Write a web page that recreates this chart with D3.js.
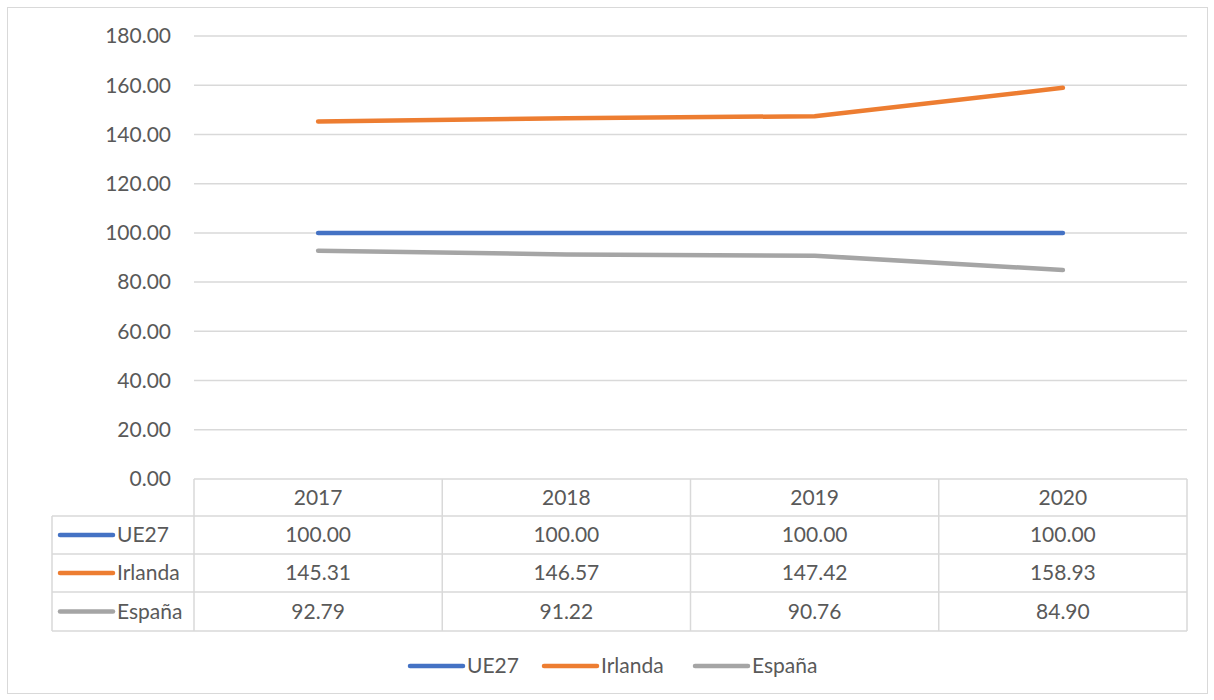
<!DOCTYPE html>
<html><head><meta charset="utf-8">
<script src="https://cdn.jsdelivr.net/npm/d3@7"></script>
<style>body{margin:0;background:#fff}svg{display:block}text{font-family:Lato,"Open Sans",sans-serif;fill:#595959}</style>
</head><body>
<script>
const categories = ["2017","2018","2019","2020"];
const seriesNames = ["UE27","Irlanda","España"];
const ue27 = [100.00,100.00,100.00,100.00];
const irlanda = [145.31,146.57,147.42,158.93];
const espana = [92.79,91.22,90.76,84.90];
const colors = ["#4472C4","#ED7D31","#A5A5A5"];
const yTicks = [0,20,40,60,80,100,120,140,160,180];
const series = [ue27, irlanda, espana];

const W=1214,H=700;
const svg=d3.select("body").append("svg").attr("width",W).attr("height",H);
svg.append("rect").attr("x",7.5).attr("y",7.5).attr("width",1200).attr("height",686).attr("fill","#fff").attr("stroke","#d9d9d9");

const x=d3.scaleBand().domain(categories).range([194,1187]);
const y=d3.scaleLinear().domain([0,180]).range([479,36]);
const fs=21;

// gridlines
svg.append("g").selectAll("line").data(yTicks.filter(d=>d>0)).join("line")
 .attr("x1",194).attr("x2",1187).attr("y1",d=>y(d)).attr("y2",d=>y(d))
 .attr("stroke","#d9d9d9").attr("stroke-width",1.5);
// y labels
svg.append("g").selectAll("text").data(yTicks).join("text")
 .attr("x",171).attr("y",d=>y(d)).attr("dy","0.35em").attr("text-anchor","end")
 .attr("font-size",fs).text(d=>d.toFixed(2));

// lines
const line=d3.line().x((d,i)=>x(categories[i])+x.bandwidth()/2).y(d=>y(d));
svg.append("g").selectAll("path").data(series).join("path")
 .attr("d",d=>line(d)).attr("fill","none").attr("stroke",(d,i)=>colors[i])
 .attr("stroke-width",4.5).attr("stroke-linecap","round").attr("stroke-linejoin","round");

// data table
const rowY=[479,516,554,592,631];
const tb=svg.append("g").attr("stroke","#d9d9d9").attr("stroke-width",1.5);
tb.append("line").attr("x1",194).attr("x2",1187).attr("y1",rowY[0]).attr("y2",rowY[0]);
for(let r=1;r<rowY.length;r++) tb.append("line").attr("x1",52).attr("x2",1187).attr("y1",rowY[r]).attr("y2",rowY[r]);
tb.append("line").attr("x1",52).attr("x2",52).attr("y1",rowY[1]).attr("y2",rowY[4]);
const colEdges=[194,...categories.map(c=>x(c)+x.bandwidth())];
colEdges.forEach(cx=>tb.append("line").attr("x1",cx).attr("x2",cx).attr("y1",rowY[0]).attr("y2",rowY[4]));

svg.append("g").selectAll("text").data(categories).join("text")
 .attr("x",d=>x(d)+x.bandwidth()/2).attr("y",(rowY[0]+rowY[1])/2).attr("dy","0.35em")
 .attr("text-anchor","middle").attr("font-size",fs).text(d=>d);
series.forEach((s,i)=>{
  const cy=(rowY[i+1]+rowY[i+2])/2;
  svg.append("line").attr("x1",60).attr("x2",113).attr("y1",cy).attr("y2",cy)
   .attr("stroke",colors[i]).attr("stroke-width",4.5).attr("stroke-linecap","round");
  svg.append("text").attr("x",117).attr("y",cy).attr("dy","0.35em").attr("font-size",fs).text(seriesNames[i]);
  svg.append("g").selectAll("text").data(s).join("text")
   .attr("x",(d,j)=>x(categories[j])+x.bandwidth()/2).attr("y",cy).attr("dy","0.35em")
   .attr("text-anchor","middle").attr("font-size",fs).text(d=>d.toFixed(2));
});

// legend
const legX=[410,544,695];
seriesNames.forEach((n,i)=>{
  svg.append("line").attr("x1",legX[i]).attr("x2",legX[i]+53).attr("y1",666).attr("y2",666)
   .attr("stroke",colors[i]).attr("stroke-width",4.5).attr("stroke-linecap","round");
  svg.append("text").attr("x",legX[i]+57).attr("y",666).attr("dy","0.35em").attr("font-size",fs).text(n);
});
</script>
</body></html>
